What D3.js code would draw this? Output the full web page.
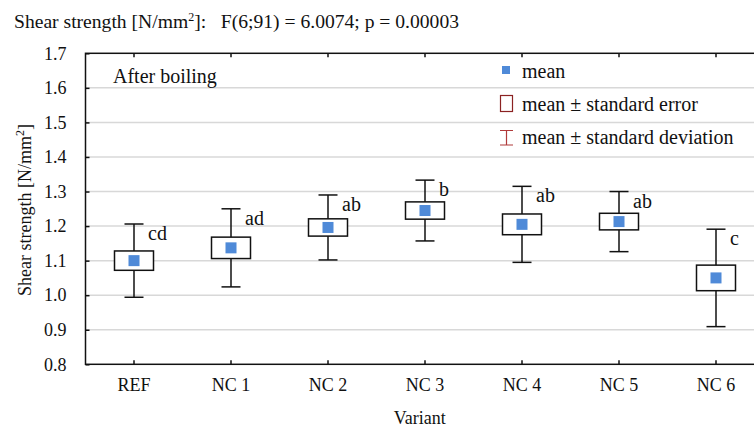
<!DOCTYPE html>
<html>
<head>
<meta charset="utf-8">
<script src="https://cdn.jsdelivr.net/npm/d3@7"></script>
<style>
  body { margin: 0; background: #fff; }
  svg text { font-family: "Liberation Serif", "Times New Roman", serif; fill: #111; }
</style>
</head>
<body>
<script>
// data
const categories = ['REF', 'NC 1', 'NC 2', 'NC 3', 'NC 4', 'NC 5', 'NC 6'];
const means = [1.100, 1.137, 1.196, 1.245, 1.205, 1.213, 1.050];
const stdErr = [0.028, 0.031, 0.025, 0.025, 0.030, 0.024, 0.037];
const stdDev = [0.106, 0.113, 0.094, 0.088, 0.110, 0.087, 0.141];
const letters = ['cd', 'ad', 'ab', 'b', 'ab', 'ab', 'c'];
const yTicks = [0.8, 0.9, 1.0, 1.1, 1.2, 1.3, 1.4, 1.5, 1.6, 1.7];

const [w, h] = [754, 430];
const [plotL, plotT, plotB, plotR] = [85.5, 53.3, 364.3, 764.5];
const blue = '#4f8ad8';
const serif = '"Liberation Serif", "Times New Roman", serif';

const svg = d3.select('body')
  .append('svg')
  .attr('width', w)
  .attr('height', h)
  .attr('font-family', serif);

const x = d3.scaleBand().domain(categories).range([plotL, plotR]);
const y = d3.scaleLinear().domain([0.8, 1.7]).range([plotB, plotT]);
const cx = d => x(d) + x.bandwidth() / 2;

// title
const title = svg.append('text')
  .attr('x', 14)
  .attr('y', 28)
  .attr('font-size', '19.6px');
title.append('tspan').text('Shear strength [N/mm');
title.append('tspan').attr('font-size', '12px').attr('dy', -7).text('2');
title.append('tspan').attr('dy', 7).text(']:\u00a0\u00a0\u00a0F(6;91) = 6.0074; p = 0.00003');

// gridlines
svg.append('g')
  .selectAll('line')
  .data(yTicks.slice(1, -1))
  .join('line')
  .attr('x1', plotL)
  .attr('x2', w)
  .attr('y1', d => y(d))
  .attr('y2', d => y(d))
  .attr('stroke', '#d8d8d8')
  .attr('stroke-width', 1.5);

// axes (ticks pointing inward)
const yAxis = d3.axisLeft(y)
  .tickValues(yTicks)
  .tickFormat(d3.format('.1f'))
  .tickSize(-4)
  .tickPadding(19);
const gy = svg.append('g')
  .attr('transform', `translate(${plotL},0)`)
  .call(yAxis);

const xAxis = d3.axisBottom(x).tickSize(-4).tickPadding(14);
const gx = svg.append('g')
  .attr('transform', `translate(0,${plotB})`)
  .call(xAxis);

const gt = svg.append('g')
  .attr('transform', `translate(0,${plotT})`)
  .call(d3.axisTop(x).tickSize(-4).tickFormat(''));

[gx, gy, gt].forEach(g => {
  g.attr('font-family', serif).attr('font-size', 18);
  g.select('.domain').remove();
  g.selectAll('line').attr('stroke', '#111').attr('stroke-width', 1.5);
  g.selectAll('text').attr('fill', '#111');
});

// frame
svg.append('rect')
  .attr('x', plotL)
  .attr('y', plotT)
  .attr('width', plotR - plotL)
  .attr('height', plotB - plotT)
  .attr('fill', 'none')
  .attr('stroke', '#111')
  .attr('stroke-width', 1.5);

// axis titles
svg.append('text')
  .attr('x', (plotL + w) / 2)
  .attr('y', 424)
  .attr('text-anchor', 'middle')
  .attr('font-size', '18px')
  .text('Variant');

const yt = svg.append('text')
  .attr('transform', 'translate(31,210) rotate(-90)')
  .attr('text-anchor', 'middle')
  .attr('font-size', '18px');
yt.append('tspan').text('Shear strength [N/mm');
yt.append('tspan').attr('font-size', '12px').attr('dy', -7).text('2');
yt.append('tspan').attr('dy', 7).text(']');

svg.append('text')
  .attr('x', 113)
  .attr('y', 83)
  .attr('font-size', '20px')
  .text('After boiling');

// whiskers, boxes, means
const groups = svg.append('g')
  .selectAll('g')
  .data(categories.map((c, i) => ({c, m: means[i], se: stdErr[i], sd: stdDev[i], l: letters[i]})))
  .join('g');

groups.append('line')
  .attr('x1', d => cx(d.c)).attr('x2', d => cx(d.c))
  .attr('y1', d => y(d.m + d.sd)).attr('y2', d => y(d.m - d.sd))
  .attr('stroke', '#111').attr('stroke-width', 1.5);

groups.selectAll('.cap')
  .data(d => [d.m + d.sd, d.m - d.sd].map(v => ({c: d.c, v})))
  .join('line')
  .attr('class', 'cap')
  .attr('x1', d => cx(d.c) - 9.5).attr('x2', d => cx(d.c) + 9.5)
  .attr('y1', d => y(d.v)).attr('y2', d => y(d.v))
  .attr('stroke', '#111').attr('stroke-width', 1.5);

groups.append('rect')
  .attr('x', d => cx(d.c) - 19.5)
  .attr('width', 39)
  .attr('y', d => y(d.m + d.se))
  .attr('height', d => y(d.m - d.se) - y(d.m + d.se))
  .attr('fill', '#fff')
  .attr('stroke', '#111').attr('stroke-width', 1.5);

groups.append('rect')
  .attr('x', d => cx(d.c) - 5.5)
  .attr('y', d => y(d.m) - 5.5)
  .attr('width', 11).attr('height', 11)
  .attr('fill', blue);

groups.append('text')
  .attr('x', d => cx(d.c) + 14)
  .attr('y', d => y(d.m + d.sd) + 16)
  .attr('font-size', '20px')
  .text(d => d.l);

// legend
const lg = svg.append('g').attr('font-size', '20px');
lg.append('rect')
  .attr('x', 502).attr('y', 66).attr('width', 8).attr('height', 8)
  .attr('fill', blue);
lg.append('text').attr('x', 522).attr('y', 78).text('mean');

lg.append('rect')
  .attr('x', 500.5).attr('y', 95.5).attr('width', 12).attr('height', 16)
  .attr('fill', 'none').attr('stroke', '#8b2222').attr('stroke-width', 1.2);
lg.append('text').attr('x', 522).attr('y', 111).text('mean \u00b1 standard error');

lg.append('path')
  .attr('d', 'M500,130.5H513M506.5,130.5V145M500,145H513')
  .attr('fill', 'none').attr('stroke', '#b03a3a').attr('stroke-width', 1.2);
lg.append('text').attr('x', 522).attr('y', 144).text('mean \u00b1 standard deviation');
</script>
</body>
</html>
